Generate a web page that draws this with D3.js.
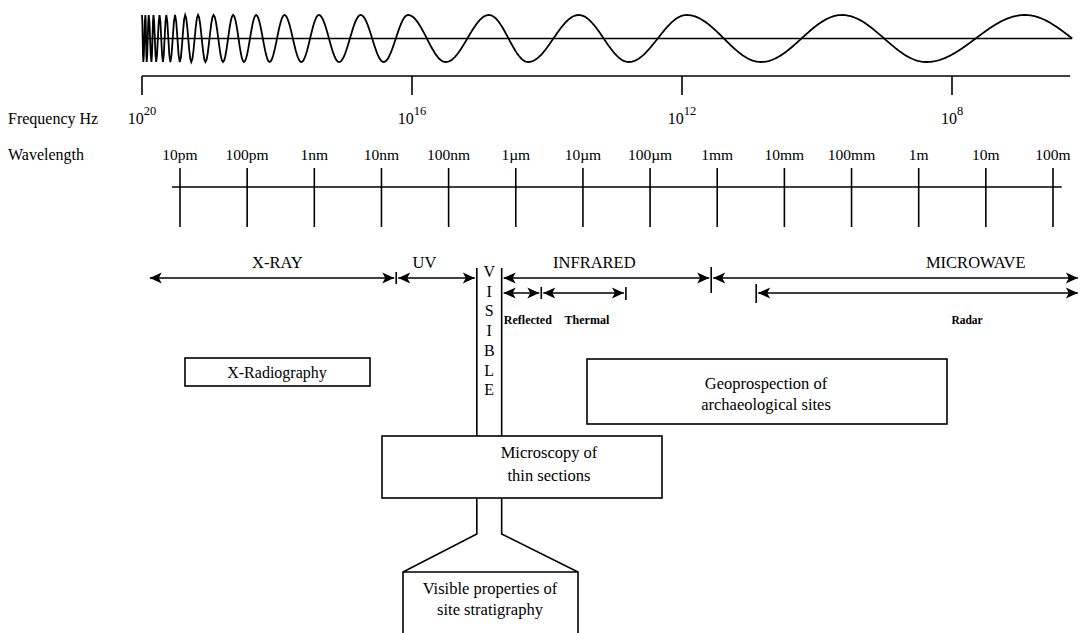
<!DOCTYPE html>
<html><head><meta charset="utf-8">
<script src="https://cdn.jsdelivr.net/npm/d3@7"></script>
<style>body{margin:0;background:#fff}svg{display:block}text{font-family:"Liberation Serif","Times New Roman",serif;fill:#000}</style>
</head><body><svg id="c" width="1082" height="633"></svg>
<script>
// ---- data ----
const freqTickExp = [20, 16, 12, 8];                 // Frequency Hz ticks (10^n)
const freqAxisEndExp = 6.25;                         // right end of frequency axis
const waveExtremaLog10Hz = [20, 19.98, 19.95, 19.93, 19.90, 19.86, 19.83, 19.79, 19.74, 19.69, 19.64, 19.58, 19.51, 19.44, 19.36, 19.27, 19.17, 19.06, 18.94, 18.80, 18.65, 18.49, 18.31, 18.11, 17.89, 17.64, 17.38, 17.08, 16.76, 16.42, 16.06, 15.50, 14.86, 14.28, 13.53, 12.79, 11.93, 10.83, 9.63, 8.38, 6.92];
const waveEndLog10Hz = 6.22;
const wavelengthValues = [1e-11, 1e-10, 1e-9, 1e-8, 1e-7, 1e-6, 1e-5, 1e-4, 1e-3, 1e-2, 1e-1, 1, 10, 100];
const wavelengthLabels = ["10pm", "100pm", "1nm", "10nm", "100nm", "1µm", "10µm", "100µm", "1mm", "10mm", "100mm", "1m", "10m", "100m"];
const wavelengthLineExp = [-11.12, 2.13];
const bandNames = ["X-RAY", "UV", "INFRARED", "MICROWAVE"];
const bandFromExp = [-11.45, -7.78, -6.21, -3.09];
const bandToExp = [-7.78, -6.58, -3.09, 2.37];
const bandLabelExp = [-9.55, -7.36, -4.83, 0.85];
const subBandNames = ["Reflected", "Thermal", "Radar"];
const subBandFromExp = [-6.21, -5.62, -2.42];
const subBandToExp = [-5.62, -4.36, 2.37];
const subBandLabelExp = [-5.82, -4.94, 0.72];
const visibleLetters = ["V", "I", "S", "I", "B", "L", "E"];
const visibleFromExp = -6.58, visibleToExp = -6.21;
const applications = ["X-Radiography", "Geoprospection of|archaeological sites", "Microscopy of|thin sections", "Visible properties of|site stratigraphy"];

// ---- drawing ----
const svg = d3.select("#c");
const xf = d3.scaleLog().domain([1e20, 1e8]).range([142, 952]);
const xw = d3.scaleLog().domain([1e-11, 1e2]).range([180, 1053]);
const fx = e => xf(Math.pow(10, e));
const wx = e => xw(Math.pow(10, e));
const stroke = "#000";

// wave
const cy = 38.5, A = 23.5;
const pts = [];
for (let i = 0; i < waveExtremaLog10Hz.length - 1; i++) {
  const x0 = fx(waveExtremaLog10Hz[i]), x1 = fx(waveExtremaLog10Hz[i + 1]);
  const n = Math.max(4, Math.ceil((x1 - x0) / 1.2));
  for (let k = 0; k < n; k++) { const t = k / n; pts.push([x0 + (x1 - x0) * t, cy - A * Math.cos(Math.PI * (i + t))]); }
}
{
  const i = waveExtremaLog10Hz.length - 1;
  const x0 = fx(waveExtremaLog10Hz[i]), x1 = fx(waveEndLog10Hz);
  const n = 40;
  for (let k = 0; k <= n; k++) { const t = k / n; pts.push([x0 + (x1 - x0) * t, cy - A * Math.cos(Math.PI * i + Math.PI / 2 * t)]); }
}
svg.append("line").attr("x1", fx(20)).attr("x2", fx(waveEndLog10Hz)).attr("y1", cy).attr("y2", cy).attr("stroke", stroke).attr("stroke-width", 1.4);
svg.append("path").attr("d", d3.line()(pts)).attr("fill", "none").attr("stroke", stroke).attr("stroke-width", 1.8);

// frequency axis
const fy = 76;
svg.append("line").attr("x1", fx(20)).attr("x2", fx(freqAxisEndExp)).attr("y1", fy).attr("y2", fy).attr("stroke", stroke).attr("stroke-width", 1.6);
freqTickExp.forEach(e => {
  svg.append("line").attr("x1", fx(e)).attr("x2", fx(e)).attr("y1", fy).attr("y2", fy + 19).attr("stroke", stroke).attr("stroke-width", 1.6);
  const t = svg.append("text").attr("x", fx(e)).attr("y", 124).attr("text-anchor", "middle").attr("font-size", 16);
  t.append("tspan").text("10");
  t.append("tspan").attr("dy", -9).attr("font-size", 12.5).text(e);
});
svg.append("text").attr("x", 8).attr("y", 124).attr("font-size", 16).text("Frequency Hz");

// wavelength axis
const wy = 187;
svg.append("text").attr("x", 8).attr("y", 160).attr("font-size", 16).text("Wavelength");
svg.append("line").attr("x1", wx(wavelengthLineExp[0])).attr("x2", wx(wavelengthLineExp[1])).attr("y1", wy).attr("y2", wy).attr("stroke", stroke).attr("stroke-width", 1.5);
wavelengthValues.forEach((v, i) => {
  svg.append("line").attr("x1", xw(v)).attr("x2", xw(v)).attr("y1", 168).attr("y2", 227).attr("stroke", stroke).attr("stroke-width", 1.6);
  svg.append("text").attr("x", xw(v)).attr("y", 160).attr("text-anchor", "middle").attr("font-size", 15.5).text(wavelengthLabels[i]);
});

// arrows
function head(x, y, dir) { // dir -1 points left, +1 points right
  const L = 12, h = 5.5;
  svg.append("path").attr("d", `M${x},${y}L${x - dir * L},${y - h}L${x - dir * (L - 3)},${y}L${x - dir * L},${y + h}Z`).attr("fill", stroke);
}
function arrow(x1, x2, y, lw) {
  svg.append("line").attr("x1", x1).attr("x2", x2).attr("y1", y).attr("y2", y).attr("stroke", stroke).attr("stroke-width", lw || 1.6);
  head(x1, y, -1); head(x2, y, 1);
}
function vtick(x, y1, y2) { svg.append("line").attr("x1", x).attr("x2", x).attr("y1", y1).attr("y2", y2).attr("stroke", stroke).attr("stroke-width", 1.6); }

const by = 278, sy = 293;
bandNames.forEach((n, i) => {
  const a = wx(bandFromExp[i]) + (i === 0 ? 0 : 2), b = wx(bandToExp[i]) - (i === 3 ? 0 : 2);
  arrow(a, b, by);
  svg.append("text").attr("x", wx(bandLabelExp[i])).attr("y", 268).attr("text-anchor", "middle").attr("font-size", 16.5).text(n);
});
vtick(wx(bandToExp[0]), 272, 284);
vtick(wx(bandToExp[2]), 267, 293);
subBandNames.forEach((n, i) => {
  const a = wx(subBandFromExp[i]) + 2, b = wx(subBandToExp[i]) - (i === 2 ? 0 : 2);
  arrow(a, b, sy, 1.5);
  svg.append("text").attr("x", wx(subBandLabelExp[i])).attr("y", 324).attr("text-anchor", "middle").attr("font-size", i === 2 ? 11.5 : 12).attr("font-weight", "bold").text(n);
});
vtick(wx(subBandToExp[0]), 287, 299);
vtick(wx(subBandToExp[1]), 287, 300);
vtick(wx(subBandFromExp[2]), 284, 303);

// visible column + funnel
const vl = wx(visibleFromExp), vr = wx(visibleToExp);
const micTop = 436, micBot = 498, neck = 534, vpTop = 572;
svg.append("path").attr("d", `M${vl},268V${micTop}M${vr},268V${micTop}`).attr("stroke", stroke).attr("stroke-width", 1.6).attr("fill", "none");
svg.append("path").attr("d", `M${vl},${micBot}V${neck}L403,${vpTop}V633M${vr},${micBot}V${neck}L578,${vpTop}V633M403,${vpTop}H578`).attr("stroke", stroke).attr("stroke-width", 1.6).attr("fill", "none");
visibleLetters.forEach((l, i) => {
  svg.append("text").attr("x", (vl + vr) / 2).attr("y", 277 + i * 19.7).attr("text-anchor", "middle").attr("font-size", 16).text(l);
});

// boxes
function box(x, y, w, h) { svg.append("rect").attr("x", x).attr("y", y).attr("width", w).attr("height", h).attr("fill", "none").attr("stroke", stroke).attr("stroke-width", 1.6); }
function lines(str, x, y, fs, gap) {
  str.split("|").forEach((s, i) => svg.append("text").attr("x", x).attr("y", y + i * gap).attr("text-anchor", "middle").attr("font-size", fs).text(s));
}
box(185, 358, 185, 28);
lines(applications[0], 277, 378, 16, 0);
box(587, 359, 360, 65);
lines(applications[1], 766, 389, 16.5, 21);
box(382, micTop, 280, micBot - micTop);
lines(applications[2], 549, 458, 16.5, 23);
lines(applications[3], 490, 594, 16.5, 21);
</script></body></html>
